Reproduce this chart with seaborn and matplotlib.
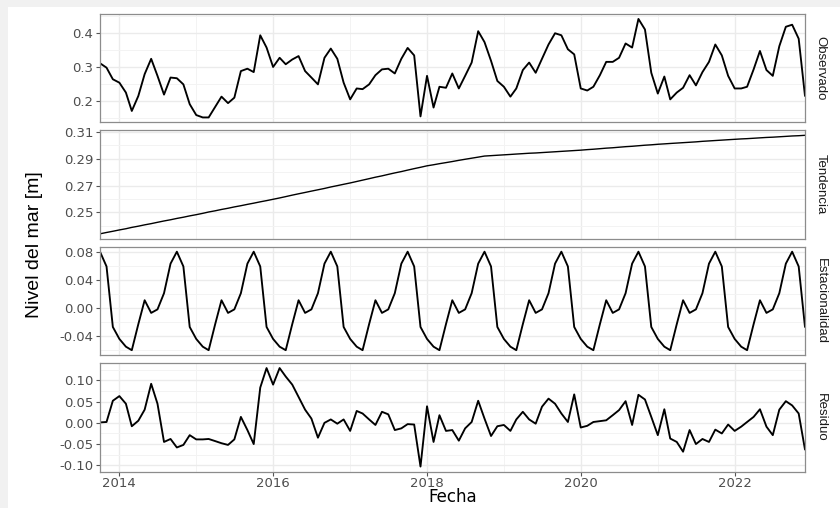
import numpy as np
import pandas as pd
import matplotlib
matplotlib.use("Agg")
import matplotlib.pyplot as plt
import matplotlib.dates as mdates
from matplotlib.ticker import FormatStrFormatter, FixedLocator
import seaborn as sns

# ---------------- data ----------------
fechas = pd.date_range("2013-10-01", periods=111, freq="MS")

observado = [
    0.312, 0.299, 0.265, 0.255, 0.226, 0.172, 0.216, 0.280, 0.325, 0.275,
    0.220, 0.270, 0.268, 0.250, 0.192, 0.160, 0.153, 0.153, 0.184, 0.214,
    0.195, 0.211, 0.289, 0.296, 0.286, 0.394, 0.358, 0.301, 0.328, 0.309,
    0.323, 0.333, 0.289, 0.270, 0.250, 0.328, 0.355, 0.325, 0.255, 0.206,
    0.238, 0.236, 0.250, 0.277, 0.294, 0.296, 0.282, 0.325, 0.357, 0.335,
    0.156, 0.275, 0.182, 0.243, 0.240, 0.282, 0.238, 0.275, 0.314, 0.406,
    0.374, 0.319, 0.260, 0.243, 0.214, 0.238, 0.292, 0.314, 0.284, 0.325,
    0.367, 0.400, 0.394, 0.353, 0.338, 0.238, 0.232, 0.243, 0.277, 0.316,
    0.316, 0.328, 0.370, 0.358, 0.442, 0.411, 0.284, 0.223, 0.273, 0.206,
    0.226, 0.240, 0.277, 0.247, 0.286, 0.316, 0.367, 0.335, 0.275, 0.238,
    0.238, 0.243, 0.294, 0.348, 0.292, 0.275, 0.362, 0.419, 0.425, 0.384,
    0.216,
]

tendencia = [
    0.2340, 0.2350, 0.2359, 0.2369, 0.2378, 0.2388, 0.2397, 0.2407, 0.2416, 0.2426,
    0.2436, 0.2445, 0.2455, 0.2464, 0.2474, 0.2483, 0.2493, 0.2503, 0.2512, 0.2522,
    0.2531, 0.2541, 0.2550, 0.2560, 0.2569, 0.2579, 0.2588, 0.2598, 0.2608, 0.2618,
    0.2629, 0.2639, 0.2649, 0.2659, 0.2669, 0.2679, 0.2690, 0.2700, 0.2710, 0.2720,
    0.2731, 0.2741, 0.2752, 0.2763, 0.2773, 0.2784, 0.2795, 0.2805, 0.2816, 0.2827,
    0.2837, 0.2848, 0.2856, 0.2864, 0.2872, 0.2880, 0.2889, 0.2897, 0.2905, 0.2913,
    0.2921, 0.2924, 0.2927, 0.2930, 0.2933, 0.2936, 0.2939, 0.2942, 0.2944, 0.2947,
    0.2950, 0.2953, 0.2956, 0.2959, 0.2962, 0.2965, 0.2969, 0.2972, 0.2976, 0.2980,
    0.2983, 0.2987, 0.2991, 0.2994, 0.2998, 0.3002, 0.3005, 0.3009, 0.3012, 0.3015,
    0.3018, 0.3021, 0.3024, 0.3027, 0.3031, 0.3034, 0.3037, 0.3040, 0.3043, 0.3046,
    0.3049, 0.3051, 0.3054, 0.3057, 0.3060, 0.3062, 0.3065, 0.3068, 0.3071, 0.3073,
    0.3076,
]

estacionalidad = [
    0.080, 0.059, -0.027, -0.044, -0.055, -0.060, -0.023, 0.011, -0.007, -0.002, 0.021, 0.063,
    0.080, 0.059, -0.027, -0.044, -0.055, -0.060, -0.023, 0.011, -0.007, -0.002, 0.021, 0.063,
    0.080, 0.059, -0.027, -0.044, -0.055, -0.060, -0.023, 0.011, -0.007, -0.002, 0.021, 0.063,
    0.080, 0.059, -0.027, -0.044, -0.055, -0.060, -0.023, 0.011, -0.007, -0.002, 0.021, 0.063,
    0.080, 0.059, -0.027, -0.044, -0.055, -0.060, -0.023, 0.011, -0.007, -0.002, 0.021, 0.063,
    0.080, 0.059, -0.027, -0.044, -0.055, -0.060, -0.023, 0.011, -0.007, -0.002, 0.021, 0.063,
    0.080, 0.059, -0.027, -0.044, -0.055, -0.060, -0.023, 0.011, -0.007, -0.002, 0.021, 0.063,
    0.080, 0.059, -0.027, -0.044, -0.055, -0.060, -0.023, 0.011, -0.007, -0.002, 0.021, 0.063,
    0.080, 0.059, -0.027, -0.044, -0.055, -0.060, -0.023, 0.011, -0.007, -0.002, 0.021, 0.063,
    0.080, 0.059, -0.027,
]

residuo = [
    0.001, 0.002, 0.052, 0.063, 0.045, -0.008, 0.005, 0.031, 0.092, 0.045,
    -0.045, -0.038, -0.058, -0.052, -0.029, -0.039, -0.039, -0.038, -0.043, -0.048,
    -0.052, -0.039, 0.014, -0.017, -0.050, 0.083, 0.129, 0.090, 0.129, 0.109,
    0.090, 0.061, 0.031, 0.010, -0.035, 0.000, 0.008, -0.002, 0.008, -0.019,
    0.028, 0.022, 0.008, -0.005, 0.026, 0.020, -0.017, -0.013, -0.003, -0.004,
    -0.103, 0.039, -0.045, 0.018, -0.019, -0.017, -0.042, -0.013, 0.002, 0.052,
    0.010, -0.031, -0.008, -0.005, -0.019, 0.008, 0.026, 0.008, -0.002, 0.038,
    0.057, 0.045, 0.022, 0.002, 0.067, -0.011, -0.007, 0.002, 0.004, 0.006,
    0.018, 0.030, 0.051, -0.005, 0.066, 0.055, 0.014, -0.029, 0.032, -0.037,
    -0.045, -0.068, -0.017, -0.050, -0.038, -0.045, -0.016, -0.025, -0.004, -0.019,
    -0.009, 0.002, 0.014, 0.032, -0.009, -0.029, 0.031, 0.051, 0.041, 0.022,
    -0.063,
]

componentes = ["Observado", "Tendencia", "Estacionalidad", "Residuo"]
series = [observado, tendencia, estacionalidad, residuo]
formatos = ["%.1f", "%.2f", "%.2f", "%.2f"]
ticks_y = [
    [0.2, 0.3, 0.4],
    [0.25, 0.27, 0.29, 0.31],
    [-0.04, 0.00, 0.04, 0.08],
    [-0.10, -0.05, 0.00, 0.05, 0.10],
]
anios_tick = ["2014", "2016", "2018", "2020", "2022"]

df = pd.concat(
    [pd.DataFrame({"fecha": fechas, "valor": s, "componente": c})
     for c, s in zip(componentes, series)],
    ignore_index=True,
)

# ---------------- figure ----------------
sns.set_theme(style="white")
plt.rcParams["font.family"] = ["DejaVu Sans"]

W, H = 840, 508
fig = plt.figure(figsize=(W / 100, H / 100), dpi=100, facecolor="white")

# light grey frame (top and left band)
fig.patches.append(plt.Rectangle((0, 1 - 7 / H), 1, 7 / H, transform=fig.transFigure,
                                 facecolor="#F1F1F1", edgecolor="none", zorder=-10))
fig.patches.append(plt.Rectangle((0, 0), 8 / W, 1, transform=fig.transFigure,
                                 facecolor="#F1F1F1", edgecolor="none", zorder=-10))

gs = fig.add_gridspec(4, 1, left=100 / W, right=805 / W, top=1 - 14 / H,
                      bottom=1 - 471.5 / H, hspace=0.074)

xmin = pd.Timestamp("2013-10-01")
xmax = pd.Timestamp("2022-12-01")
narrow = ["Liberation Sans Narrow", "Liberation Sans", "DejaVu Sans"]
axes = []
for k, comp in enumerate(componentes):
    ax = fig.add_subplot(gs[k, 0], sharex=axes[0] if axes else None)
    axes.append(ax)
    sub = df[df["componente"] == comp]
    sns.lineplot(data=sub, x="fecha", y="valor", ax=ax, color="black",
                 linewidth=1.0 if comp == "Tendencia" else 1.35, legend=False)
    ax.set_facecolor("white")
    ax.set_xlim(xmin, xmax)
    ax.margins(y=0.05)
    t = ticks_y[k]
    paso = t[1] - t[0]
    menores = [t[0] - paso / 2] + [v + paso / 2 for v in t]
    ax.yaxis.set_major_locator(FixedLocator(t))
    ax.yaxis.set_minor_locator(FixedLocator(menores))
    ax.yaxis.set_major_formatter(FormatStrFormatter(formatos[k]))
    ax.xaxis.set_major_locator(mdates.YearLocator(2))
    ax.xaxis.set_minor_locator(mdates.YearLocator(1))
    ax.xaxis.set_major_formatter(mdates.DateFormatter("%Y"))
    ax.grid(which="major", color="#EBEBEB", linewidth=1.0)
    ax.grid(which="minor", color="#F3F3F3", linewidth=0.7)
    ax.set_axisbelow(True)
    for sp in ax.spines.values():
        sp.set_visible(True)
        sp.set_color("#8C8C8C")
        sp.set_linewidth(0.9)
    ax.tick_params(axis="y", which="major", left=True, length=2.8, width=0.8,
                   color="#555555", labelsize=9.5, labelcolor="#4D4D4D", pad=2)
    ax.tick_params(axis="x", which="major", bottom=(k == 3), length=2.8, width=0.8,
                   color="#555555", labelsize=9.5, labelcolor="#4D4D4D",
                   labelbottom=(k == 3), pad=1.5)
    ax.tick_params(which="minor", length=0)
    ax.set_xlabel("")
    ax.set_ylabel("")
    ax.annotate(comp, xy=(1, 0.5), xycoords="axes fraction", xytext=(7, 0),
                textcoords="offset points", rotation=-90, va="center", ha="left",
                fontsize=9.5, color="#1A1A1A", family=narrow)

# restrict the labelled ticks to the listed years
axes[-1].set_xticks([pd.Timestamp(a + "-01-01") for a in anios_tick])
axes[-1].set_xticklabels(anios_tick)

fig.text(35 / W, 1 - 245 / H, "Nivel del mar [m]", rotation=90, va="center",
         ha="center", fontsize=14, color="black", family=narrow)
fig.text(452.5 / W, 1 - 497 / H, "Fecha", va="center", ha="center",
         fontsize=12, color="black")

fig.savefig("out.png", dpi=100, facecolor="white")
